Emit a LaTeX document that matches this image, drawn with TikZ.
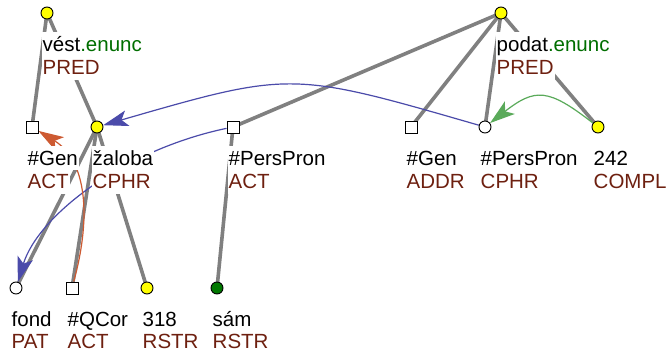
\documentclass[tikz,border=0pt]{standalone}
\usepackage{fontspec}
\setmainfont{Liberation Sans}
\usetikzlibrary{arrows.meta}
\definecolor{edgegray}{RGB}{128,128,128}
\definecolor{funcred}{RGB}{110,32,16}
\definecolor{enuncgreen}{RGB}{0,110,0}
\definecolor{corefblue}{RGB}{75,75,170}
\definecolor{corefgreen}{RGB}{90,170,90}
\definecolor{coreforange}{RGB}{205,90,50}
\definecolor{nodeyellow}{RGB}{255,255,0}
\definecolor{nodegreen}{RGB}{0,120,0}
\pgfdeclarelayer{edgelayer}
\pgfdeclarelayer{arrowlayer}
\pgfsetlayers{edgelayer,arrowlayer,main}
\tikzset{
  corefblue arrow/.style={line width=1.2pt,draw=corefblue,-{Stealth[length=25pt,width=16pt,inset=6pt,fill=corefblue]}},
  coreforange arrow/.style={line width=1.2pt,draw=coreforange,-{Stealth[length=25pt,width=16pt,inset=6pt,fill=coreforange]}},
  corefgreen arrow/.style={line width=1.2pt,draw=corefgreen,-{Stealth[length=25pt,width=16pt,inset=6pt,fill=corefgreen]}},
}
\begin{document}
\begin{tikzpicture}[x=1pt,y=-1pt,
  circ/.style={circle,draw=black,line width=0.9pt,minimum size=12pt,inner sep=0pt},
  sq/.style={rectangle,draw=black,line width=0.9pt,minimum size=12pt,inner sep=0pt,fill=white},
  ycirc/.style={circ,fill=nodeyellow},
  wcirc/.style={circ,fill=white},
  gcirc/.style={circ,fill=nodegreen},
  lbl/.style={anchor=base west,inner xsep=1pt,inner ysep=0pt,fill=white,font=\fontsize{20.5}{23}\selectfont},
  namelbl/.style={lbl,text height=19.5pt,text depth=5pt,text=black},
  funclbl/.style={lbl,text height=18.5pt,text depth=6pt,text=funcred},
  edge/.style={draw=edgegray,line width=3.6pt},
]
\useasboundingbox (0,0) rectangle (667,355);
\begin{pgfonlayer}{edgelayer}
\fill[white] (0,0) rectangle (667,355);
\end{pgfonlayer}

% labels
\node[namelbl] (vestN) at (41.5,51.5) {vést\textcolor{enuncgreen}{.enunc}};
\node[funclbl] (vestF) at (41.5,74.5) {PRED};
\node[namelbl] (podatN) at (495.5,51.5) {podat\textcolor{enuncgreen}{.enunc}};
\node[funclbl] (podatF) at (495.5,74.5) {PRED};

\node[namelbl] (GenAN) at (26.5,165.5) {\#Gen};
\node[funclbl] (GenAF) at (26.5,188.5) {ACT};
\node[namelbl] (zalobaN) at (91.5,165.5) {žaloba};
\node[funclbl] (zalobaF) at (91.5,188.5) {CPHR};
\node[namelbl] (PPAN) at (227.5,165.5) {\#PersPron};
\node[funclbl] (PPAF) at (227.5,188.5) {ACT};
\node[namelbl] (GenDN) at (405.5,165.5) {\#Gen};
\node[funclbl] (GenDF) at (405.5,188.5) {ADDR};
\node[namelbl] (PPCN) at (479.5,165.5) {\#PersPron};
\node[funclbl] (PPCF) at (479.5,188.5) {CPHR};
\node[namelbl] (n242N) at (592.5,165.5) {242};
\node[funclbl] (n242F) at (592.5,188.5) {COMPL};

\node[namelbl] (fondN) at (10.5,326.5) {fond};
\node[funclbl] (fondF) at (10.5,349) {PAT};
\node[namelbl] (qcorN) at (66.5,326.5) {\#QCor};
\node[funclbl] (qcorF) at (66.5,349) {ACT};
\node[namelbl] (n318N) at (141.5,326.5) {318};
\node[funclbl] (n318F) at (141.5,349) {RSTR};
\node[namelbl] (samN) at (211.5,326.5) {sám};
\node[funclbl] (samF) at (211.5,349) {RSTR};

% tree nodes
\node[ycirc] (vest) at (47,13) {};
\node[ycirc] (podat) at (501,13) {};
\node[sq] (GenA) at (32,127) {};
\node[ycirc] (zaloba) at (97,127) {};
\node[sq] (PPA) at (233,127) {};
\node[sq] (GenD) at (411,127) {};
\node[wcirc] (PPC) at (485,127) {};
\node[ycirc] (n242) at (598,127) {};
\node[wcirc] (fond) at (16,288) {};
\node[sq] (qcor) at (72,288) {};
\node[ycirc] (n318) at (147,288) {};
\node[gcirc] (sam) at (217,288) {};

% tree edges
\begin{pgfonlayer}{edgelayer}
\draw[edge] (vest.center) -- (GenA.center);
\draw[edge] (vest.center) -- (zaloba.center);
\draw[edge] (zaloba.center) -- (fond.center);
\draw[edge] (zaloba.center) -- (qcor.center);
\draw[edge] (zaloba.center) -- (n318.center);
\draw[edge] (podat.center) -- (PPA.center);
\draw[edge] (podat.center) -- (GenD.center);
\draw[edge] (podat.center) -- (PPC.center);
\draw[edge] (podat.center) -- (n242.center);
\draw[edge] (PPA.center) -- (sam.center);
\end{pgfonlayer}

% coreference arrows
\begin{pgfonlayer}{arrowlayer}
\draw[corefblue arrow] (PPC) .. controls (291,71) and (291,71) .. (zaloba);
\draw[corefblue arrow] (PPA) .. controls (123,150) and (38,216) .. (fond);
\draw[coreforange arrow] (qcor) .. controls (92,215) and (86,160) .. (GenA);
\draw[corefgreen arrow] (n242) .. controls (548,88) and (535,88) .. (PPC);
\end{pgfonlayer}
\end{tikzpicture}
\end{document}
